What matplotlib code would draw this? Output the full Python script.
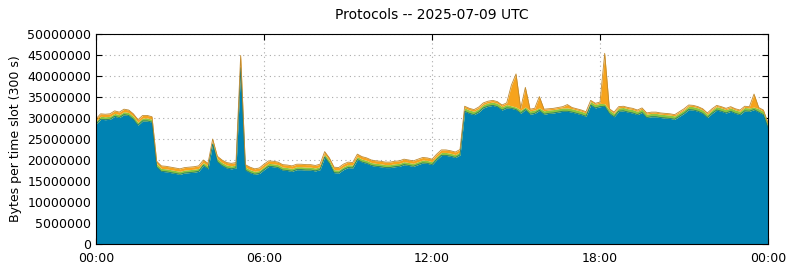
import matplotlib
matplotlib.use("Agg")
import matplotlib.pyplot as plt
import matplotlib.ticker as mticker
import numpy as np

# 10-minute samples over the day, values in MB per 300 s slot
minutes = np.arange(0, 1441, 10)

blue = [
    28.5, 29.7, 29.6, 29.7, 30.4, 30.1, 30.8, 30.6, 29.7, 28.3, 29.3, 29.3,
    29.0, 18.4, 17.3, 17.2, 17.0, 16.8, 16.6, 16.9, 17.0, 17.1, 17.3, 18.7,
    17.9, 23.8, 19.6, 18.7, 18.1, 17.9, 18.1, 42.0, 17.6, 17.0, 16.6, 16.8,
    17.7, 18.5, 18.4, 18.2, 17.6, 17.5, 17.3, 17.7, 17.7, 17.6, 17.6, 17.4,
    17.7, 20.7, 19.2, 17.0, 16.9, 17.7, 18.2, 18.1, 20.1, 19.5, 19.2, 18.7,
    18.5, 18.4, 18.2, 18.2, 18.4, 18.5, 18.9, 18.7, 18.5, 18.9, 19.3, 19.2,
    18.9, 20.1, 21.1, 21.1, 20.9, 20.6, 21.2, 31.6, 31.1, 30.8, 31.4, 32.4,
    32.8, 33.0, 32.7, 31.9, 32.4, 32.3, 32.0, 31.1, 32.0, 30.9, 31.1, 31.8,
    30.9, 31.1, 31.2, 31.4, 31.6, 31.6, 31.4, 31.1, 30.8, 30.4, 33.1, 32.4,
    32.7, 32.8, 31.1, 30.3, 31.6, 31.7, 31.4, 31.2, 30.8, 31.3, 30.1, 30.3,
    30.3, 30.1, 30.0, 29.9, 29.7, 30.4, 31.1, 32.0, 31.9, 31.6, 31.1, 30.1,
    31.1, 31.9, 31.6, 31.2, 31.6, 31.1, 30.8, 31.7, 31.6, 32.0, 31.4, 30.8,
    27.7,
]

green = [
    0.7, 0.7, 0.7, 0.7, 0.7, 0.7, 0.7, 0.7, 0.7, 0.7, 0.7, 0.7,
    0.7, 0.7, 0.7, 0.7, 0.7, 0.7, 0.7, 0.7, 0.7, 0.7, 0.7, 0.7,
    0.7, 0.6, 0.7, 0.7, 0.7, 0.7, 0.7, 0.4, 0.7, 0.7, 0.7, 0.7,
    0.7, 0.7, 0.7, 0.7, 0.7, 0.7, 0.7, 0.7, 0.7, 0.7, 0.7, 0.7,
    0.7, 0.7, 0.7, 0.7, 0.7, 0.7, 0.7, 0.7, 0.7, 0.7, 0.7, 0.7,
    0.7, 0.7, 0.7, 0.7, 0.7, 0.7, 0.7, 0.7, 0.7, 0.7, 0.7, 0.7,
    0.7, 0.7, 0.7, 0.7, 0.7, 0.7, 0.7, 0.8, 0.8, 0.8, 0.8, 0.8,
    0.8, 0.8, 0.8, 0.8, 0.8, 0.6, 0.6, 0.8, 0.6, 0.8, 0.8, 0.6,
    0.8, 0.8, 0.8, 0.8, 0.8, 0.8, 0.8, 0.8, 0.8, 0.8, 0.8, 0.8,
    0.8, 0.6, 0.8, 0.8, 0.8, 0.8, 0.8, 0.8, 0.8, 0.8, 0.8, 0.8,
    0.8, 0.8, 0.8, 0.8, 0.8, 0.8, 0.8, 0.8, 0.8, 0.8, 0.8, 0.8,
    0.8, 0.8, 0.8, 0.8, 0.8, 0.8, 0.8, 0.8, 0.8, 0.6, 0.8, 0.8,
    0.8,
]

orange = [
    0.6, 0.6, 0.6, 0.6, 0.6, 0.6, 0.6, 0.6, 0.6, 0.6, 0.6, 0.6,
    0.6, 0.6, 0.6, 0.6, 0.6, 0.6, 0.6, 0.6, 0.6, 0.6, 0.6, 0.6,
    0.6, 0.6, 0.6, 0.6, 0.6, 0.6, 0.6, 2.5, 0.6, 0.6, 0.6, 0.6,
    0.6, 0.6, 0.6, 0.6, 0.6, 0.6, 0.6, 0.6, 0.6, 0.6, 0.6, 0.6,
    0.6, 0.6, 0.6, 0.6, 0.6, 0.6, 0.6, 0.6, 0.6, 0.6, 0.6, 0.6,
    0.6, 0.6, 0.6, 0.6, 0.6, 0.6, 0.6, 0.6, 0.6, 0.6, 0.6, 0.6,
    0.6, 0.6, 0.6, 0.6, 0.6, 0.6, 0.6, 0.4, 0.4, 0.4, 0.4, 0.4,
    0.4, 0.4, 0.4, 0.4, 0.4, 4.9, 7.9, 0.4, 4.7, 0.4, 0.4, 2.7,
    0.4, 0.3, 0.3, 0.3, 0.3, 0.8, 0.3, 0.3, 0.3, 0.3, 0.3, 0.3,
    0.3, 12.0, 0.3, 0.3, 0.3, 0.3, 0.3, 0.3, 0.3, 0.3, 0.3, 0.3,
    0.3, 0.3, 0.3, 0.3, 0.3, 0.3, 0.3, 0.3, 0.3, 0.3, 0.3, 0.3,
    0.3, 0.3, 0.3, 0.3, 0.3, 0.3, 0.3, 0.3, 0.3, 3.1, 0.3, 0.3,
    0.3,
]

tick_labels = ["00:00", "06:00", "12:00", "18:00", "00:00"]

x = minutes / 60.0
b = np.array(blue) * 1e6
g = np.array(green) * 1e6
o = np.array(orange) * 1e6

fig = plt.figure(figsize=(7.9, 2.67), dpi=100)
ax = fig.add_axes([0.1215, 0.0861, 0.8507, 0.7866])

ax.fill_between(x, 0, b, color="#0083b3", lw=0)
ax.fill_between(x, b, b + g, color="#8cc63f", lw=0)
ax.fill_between(x, b + g, b + g + o, color="#f6a31c", lw=0)
ax.plot(x, b, color="#1f7a70", lw=0.6)
ax.plot(x, b + g + o, color="#c08a30", lw=0.6)

ax.set_xlim(0, 24)
ax.set_ylim(0, 50e6)
ax.set_xticks([0, 6, 12, 18, 24])
ax.set_xticklabels(tick_labels)
ax.set_yticks(np.arange(0, 50e6 + 1, 5e6))
ax.yaxis.set_major_formatter(mticker.FuncFormatter(lambda v, p: "%d" % v))
ax.tick_params(direction="in", top=True, right=True, labelsize=9, length=4)
ax.tick_params(axis="x", pad=6)
ax.grid(True, linestyle=(0, (1, 3)), color="#aaaaaa", lw=0.8)
ax.set_axisbelow(True)

ax.set_ylabel("Bytes per time slot (300 s)", fontsize=9)
ax.set_title("Protocols -- 2025-07-09 UTC", fontsize=10, pad=11)

fig.savefig("out.png", dpi=100)
